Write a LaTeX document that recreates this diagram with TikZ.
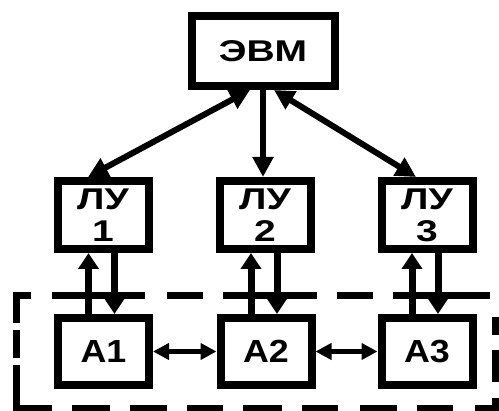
\documentclass[tikz,border=0pt]{standalone}
\usepackage{fontspec}
\usetikzlibrary{arrows.meta}
\newfontfamily\widefont{Liberation Sans}[FakeStretch=1.3]
\newfontfamily\unitfont{Liberation Sans}[FakeStretch=1.12]
\begin{document}
\begin{tikzpicture}[x=1pt,y=-1pt,
  box/.style={draw, line width=8pt, minimum width=91pt, minimum height=68pt,
    inner sep=0pt, align=center},
  toplabel/.style={font=\widefont\bfseries\fontsize{30}{32}\selectfont},
  unitlabel/.style={font=\unitfont\bfseries\fontsize{32}{34}\selectfont},
  link/.style={line width=6pt, {Triangle[length=20pt,width=20pt]}-{Triangle[length=20pt,width=20pt]}},
  downlink/.style={line width=6pt, -{Triangle[length=20pt,width=20pt]}},
  feed/.style={line width=7pt, -{Triangle[length=16pt,width=20pt]}},
  peer/.style={line width=5pt, {Triangle[length=16pt,width=16pt]}-{Triangle[length=16pt,width=16pt]}},
  frame/.style={line width=7pt, line cap=butt}]
\useasboundingbox (0,0) rectangle (499,411);

% computer
\node[box, toplabel, minimum width=143pt, minimum height=70pt] (evm) at (263,51) {ЭВМ};

% local units
\node[box, toplabel] (lu1) at (103,215) {ЛУ\\1};
\node[box, toplabel] (lu2) at (265,215) {ЛУ\\2};
\node[box, toplabel] (lu3) at (427,215) {ЛУ\\3};

% controlled units
\node[box, unitlabel, minimum height=67pt] (a1) at (103.5,351.5) {А1};
\node[box, unitlabel, minimum height=67pt] (a2) at (266,351.5) {А2};
\node[box, unitlabel, minimum height=67pt] (a3) at (427,351.5) {А3};

% computer <-> local units
\draw[link] ([xshift=-13pt]evm.south) -- ([xshift=-15pt]lu1.north);
\draw[downlink] (evm.south) -- (evm.south |- lu2.north);
\draw[link] ([xshift=11pt]evm.south) -- ([xshift=-11pt]lu3.north);

% local units <-> controlled units
\foreach \l/\a in {lu1/a1, lu2/a2, lu3/a3}{
  \draw[feed] ([xshift=-15pt]\a.north) -- ([xshift=-15pt]\a.north |- \l.south);
  \draw[feed] ([xshift=11pt]\a.north |- \l.south) -- ([xshift=11pt]\a.north);
}

% links between controlled units
\draw[peer] (a1.east) -- (a2.west);
\draw[peer] (a2.east) -- (a3.west);

% dashed boundary of the controlled plant
\draw[frame] (16,323) -- (16,295.5) -- (31,295.5);
\foreach \u/\v in {52/145, 167/203, 223/317, 337/373, 393/490}
  \draw[frame] (\u,295.5) -- (\v,295.5);
\draw[frame] (16,330) -- (16,358);
\draw[frame] (16,365) -- (16,408.5) -- (52,408.5);
\foreach \u/\v in {72/110, 130/167, 187/223, 243/282, 302/338, 360/397, 417/453}
  \draw[frame] (\u,408.5) -- (\v,408.5);
\draw[frame] (475,408.5) -- (495.5,408.5) -- (495.5,398);
\draw[frame] (495.5,317) -- (495.5,335);
\draw[frame] (495.5,350) -- (495.5,382);
\end{tikzpicture}
\end{document}
